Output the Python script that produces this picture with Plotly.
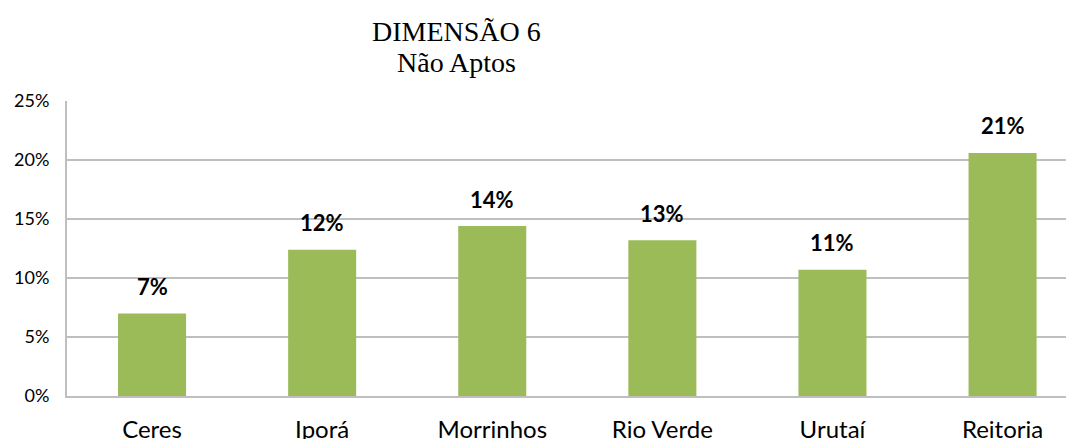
import plotly.graph_objects as go

campi = ["Ceres", "Iporá", "Morrinhos", "Rio Verde", "Urutaí", "Reitoria"]
nao_aptos = [7.0, 12.4, 14.4, 13.2, 10.7, 20.6]
rotulos = ["7%", "12%", "14%", "13%", "11%", "21%"]
y_ticks = [0, 5, 10, 15, 20, 25]
y_tick_text = ["0%", "5%", "10%", "15%", "20%", "25%"]
titulo = ["DIMENSÃO 6", "Não Aptos"]

# page body has an 8px margin, so the figure is 8px smaller than the window
W, H = 1066, 431

fig = go.Figure()
fig.add_trace(go.Bar(
    x=campi,
    y=nao_aptos,
    marker=dict(color="#9BBB59", line=dict(width=0)),
    width=0.4,
    hoverinfo="x+y",
))

# data labels a bit above the bars, like the original
for c, v, r in zip(campi, nao_aptos, rotulos):
    fig.add_annotation(
        x=c, y=v, text=r, showarrow=False, yshift=27,
        font=dict(family="Lato", size=22, color="#000000", weight="bold"),
    )

# two-line serif title, placed by hand (not centred on the plot)
for linha, ypos in zip(titulo, [1.237, 1.132]):
    fig.add_annotation(
        xref="paper", yref="paper", x=0.387, y=ypos,
        xanchor="center", yanchor="middle", showarrow=False, text=linha,
        font=dict(family="Liberation Serif", size=28, color="#000000"),
    )

fig.update_layout(
    width=W,
    height=H,
    margin=dict(l=59, r=0, t=93, b=43),
    paper_bgcolor="white",
    plot_bgcolor="white",
    showlegend=False,
)
fig.update_xaxes(
    range=[-0.5, 5.42],
    showgrid=False,
    showline=True,
    linecolor="#BFBFBF",
    linewidth=2,
    ticks="",
    tickfont=dict(family="Lato", size=24, color="#000000"),
    ticklabelstandoff=11,
    automargin=False,
)
fig.update_yaxes(
    range=[0, 25],
    tickvals=y_ticks,
    ticktext=y_tick_text,
    showgrid=True,
    gridcolor="#BFBFBF",
    gridwidth=1.5,
    showline=True,
    linecolor="#BFBFBF",
    linewidth=2,
    zeroline=False,
    ticks="",
    tickfont=dict(family="Lato", size=18, color="#000000"),
    ticklabelstandoff=12,
    automargin=False,
)

fig.write_html("out.html")
